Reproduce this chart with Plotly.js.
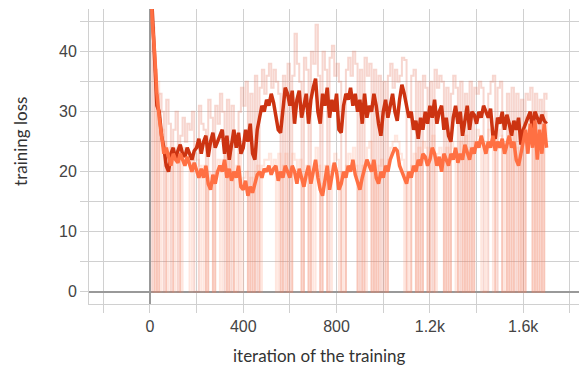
<!DOCTYPE html>
<html>
<head>
<meta charset="utf-8">
<script src="https://cdn.plot.ly/plotly-3.0.1.min.js"></script>
<style>html,body{margin:0;padding:0;background:#fff;}#chart{width:579px;height:367px;}</style>
</head>
<body>
<div id="chart"></div>
<script>
// iteration step between logged points
const STEP = 10;

// smoothed loss, run A (dark red)
const lossA = [
  55, 46, 38, 31, 30, 26, 24, 21, 20, 23,
  24, 22, 23.5, 24.5, 23, 22.5, 24, 23, 22, 23.5,
  24, 25.5, 23, 25, 26, 22.5, 25, 26.5, 24, 25,
  26, 27, 23, 26, 22, 25, 27, 24, 26.5, 23,
  24, 27, 25, 28, 23, 22, 27, 29, 31, 30,
  32, 31, 33, 31.5, 29, 27, 26.5, 30, 34, 33,
  31, 33.5, 28, 32, 33.5, 29, 31, 33, 28, 32,
  34, 35.5, 30, 28, 33, 31, 34, 29, 32, 30,
  33, 27, 26.5, 31, 33, 32, 34, 31, 33, 30,
  32, 28, 33, 29, 31, 30, 33, 31, 28, 26,
  30, 32, 29, 31, 33, 30, 28.5, 32, 34.5, 33,
  31, 29, 30, 27, 28.5, 25.5, 29, 27, 30, 28,
  31, 29, 32, 28, 30, 31, 27, 29, 26, 25,
  29, 31, 28, 30, 26, 29, 31, 27, 30, 29.5,
  28, 30, 29, 31, 30, 29, 30.5, 26, 25.5, 29,
  28, 30, 27, 29.5, 28, 26, 28.5, 27, 29, 24.5,
  27, 28, 29, 30, 27, 30, 29, 28, 29.5, 28.5, 28
];

// smoothed loss, run B (orange)
const lossB = [
  60, 45, 40, 33, 29, 26, 23, 24, 22.5, 21,
  23, 22, 21.5, 23, 22, 21, 22.5, 21, 20, 21.5,
  20, 19, 20.5, 19, 21, 18, 17, 19.5, 18, 20,
  21, 20, 22, 19, 20.5, 18.5, 20, 19, 21, 17.5,
  17, 18.5, 16, 17.5, 16.5, 18, 19.5, 20, 19, 20.5,
  20, 21, 19.5, 20.5, 21, 18.5, 20, 19, 21, 20,
  19, 21, 20, 18, 20.5, 19, 17.5, 19.5, 21, 18,
  20, 22, 19, 17, 16, 19, 21, 17, 19, 21.5,
  20, 17, 18, 20, 19, 21, 20, 22, 19.5, 18,
  17, 19, 20.5, 22, 21, 20, 22, 19, 18, 20,
  19, 21, 20, 22, 23, 24, 23.5, 21, 20, 19,
  18, 20, 19, 21, 20, 22, 21, 23, 22.5, 21,
  22, 24, 23, 21, 22.5, 20, 23, 22, 21, 23,
  22, 24, 21.5, 23, 22, 24.5, 23, 22, 24, 23,
  25, 24, 26, 24.5, 23, 25, 24, 26, 23.5, 25,
  24, 25.5, 23, 24.5, 26, 24, 25, 22, 21, 23,
  25, 27, 23, 28, 24, 28.5, 22, 27, 23, 28, 24
];

// raw loss, run A
const rawA = [
  50, 0, 37, 0, 33, 30, 0, 32, 28, 0,
  27, 30, 0, 26, 29, 25, 28, 27, 30, 0,
  0, 31, 28, 27, 0, 32, 29, 0, 31, 28,
  33, 30, 0, 32, 0, 31, 0, 0, 30, 34,
  31, 35, 0, 33, 0, 36, 0, 34, 37, 33,
  36, 38, 34, 37, 35, 33, 0, 36, 0, 38,
  0, 36, 43, 38, 35, 0, 39, 37, 0, 40,
  38, 44.5, 36, 0, 40, 37, 0, 39, 41, 36,
  38, 35, 0, 0, 37, 39, 36, 40, 38, 0,
  37, 0, 39, 36, 38, 0, 37, 0, 36, 0,
  35, 0, 36, 38, 34, 37, 35, 36, 39, 38.6,
  0, 0, 36, 37, 0, 35, 0, 36, 34, 0,
  35, 0, 37, 34, 36, 35, 0, 34, 0, 33,
  36, 34, 0, 35, 0, 33, 0, 35, 0, 34,
  33, 35, 34, 0, 0, 33, 35, 36, 0, 34,
  35, 0, 0, 33, 0, 34, 0, 33, 0, 32,
  0, 33, 32, 34, 0, 33, 0, 32, 0, 33, 32
];

// raw loss, run B
const rawB = [
  55, 44, 0, 35, 0, 27, 25, 0, 24, 22,
  0, 24, 23, 0, 24, 22, 23, 0, 22, 23,
  22, 21, 0, 21, 0, 20, 19, 0, 20, 22,
  0, 22, 24, 0, 23, 20, 0, 21, 23, 0,
  19, 20, 0, 19, 0, 20, 21, 0, 21, 22,
  22, 23, 21, 22, 0, 23, 0, 21, 23, 0,
  0, 23, 22, 20, 22, 0, 19, 21, 0, 20,
  0, 24, 21, 0, 18, 21, 0, 0, 21, 23,
  22, 0, 20, 0, 21, 23, 22, 24, 21, 0,
  0, 21, 0, 24, 25, 0, 20, 0, 21, 22,
  21, 0, 22, 24, 25, 26, 25, 23, 22, 0,
  20, 0, 21, 23, 0, 24, 0, 25, 24, 0,
  24, 26, 0, 23, 24, 22, 0, 24, 0, 25,
  24, 0, 23, 25, 0, 26, 0, 24, 0, 25,
  27, 26, 0, 0, 25, 27, 26, 0, 25, 27,
  26, 0, 25, 0, 28, 0, 27, 24, 0, 25,
  0, 29, 25, 30, 0, 30, 0, 29, 0, 30, 26
];

const xTickVals = [-200, 0, 200, 400, 600, 800, 1000, 1200, 1400, 1600, 1800];
const xTickText = ['', '0', '', '400', '', '800', '', '1.2k', '', '1.6k', ''];
const yTickVals = [0, 5, 10, 15, 20, 25, 30, 35, 40, 45];
const yTickText = ['0', '', '10', '', '20', '', '30', '', '40', ''];

const xTitle = 'iteration of the training';
const yTitle = 'training loss';

const iters = lossA.map((_, i) => i * STEP);

const traces = [
  {x: iters, y: rawA, type: 'scatter', mode: 'lines', hoverinfo: 'skip',
   line: {color: 'rgba(230,120,95,0.30)', width: 2, shape: 'hv'}},
  {x: iters, y: rawB, type: 'scatter', mode: 'lines', hoverinfo: 'skip',
   line: {color: 'rgba(255,140,105,0.22)', width: 2, shape: 'hv'}},
  {x: iters, y: lossA, type: 'scatter', mode: 'lines',
   line: {color: '#cc3311', width: 3.5}},
  {x: iters, y: lossB, type: 'scatter', mode: 'lines',
   line: {color: '#ff7043', width: 3.5}}
];

const gridC = '#d0d0d0';
const tickFont = {family: 'Liberation Sans, Arial, sans-serif', size: 16, color: '#444'};
const titleFont = {family: 'Lato, "Open Sans", sans-serif', size: 17, color: '#333'};

const layout = {
  width: 579, height: 367,
  margin: {l: 89, r: 0, t: 9, b: 63, pad: 0},
  paper_bgcolor: '#fff', plot_bgcolor: '#fff',
  showlegend: false,
  xaxis: {
    range: [-261, 1839], tickmode: 'array', tickvals: xTickVals, ticktext: xTickText,
    showgrid: true, gridcolor: gridC, gridwidth: 1,
    ticks: 'outside', ticklen: 8, tickcolor: gridC, tickwidth: 1,
    showline: true, linecolor: gridC, linewidth: 1,
    zeroline: true, zerolinecolor: '#999', zerolinewidth: 2,
    tickfont: tickFont, fixedrange: true
  },
  yaxis: {
    range: [-2.05, 47.12], tickmode: 'array', tickvals: yTickVals, ticktext: yTickText,
    showgrid: true, gridcolor: gridC, gridwidth: 1,
    ticks: 'outside', ticklen: 8, tickcolor: gridC, tickwidth: 1,
    showline: true, linecolor: gridC, linewidth: 1,
    zeroline: true, zerolinecolor: '#999', zerolinewidth: 2,
    tickfont: tickFont, fixedrange: true
  },
  annotations: [
    {text: xTitle, xref: 'paper', yref: 'paper', x: 0.471, y: -0.175,
     xanchor: 'center', yanchor: 'middle', showarrow: false, font: titleFont},
    {text: yTitle, xref: 'paper', yref: 'paper', x: -0.141, y: 0.5525, textangle: -90,
     xanchor: 'center', yanchor: 'middle', showarrow: false, font: titleFont}
  ]
};

Plotly.newPlot('chart', traces, layout, {displayModeBar: false, staticPlot: true});
</script>
</body>
</html>
